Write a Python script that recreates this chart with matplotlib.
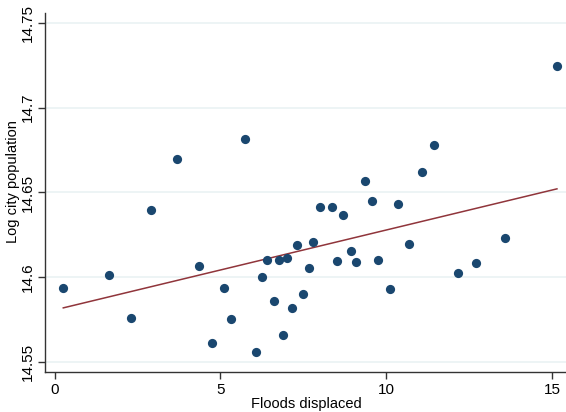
import numpy as np
import matplotlib
matplotlib.use("Agg")
import matplotlib.pyplot as plt

plt.rcParams['font.family'] = ['Liberation Sans', 'DejaVu Sans']

floods_displaced = [0.262, 1.639, 2.301, 2.895, 3.687, 4.349, 4.741, 5.102, 5.322, 5.744,
                    6.057, 6.238, 6.389, 6.608, 6.768, 6.889, 7.0, 7.160, 7.292, 7.482,
                    7.654, 7.798, 8.009, 8.376, 8.506, 8.708, 8.928, 9.078, 9.358, 9.560,
                    9.750, 10.102, 10.352, 10.684, 11.066, 11.437, 12.151, 12.693, 13.575, 15.142]
log_city_pop = [14.5939, 14.6014, 14.5758, 14.6397, 14.6696, 14.6068, 14.5611, 14.5939, 14.5754, 14.6814,
                14.5561, 14.6004, 14.6102, 14.5862, 14.6100, 14.5658, 14.6114, 14.5821, 14.6190, 14.5900,
                14.6055, 14.6208, 14.6414, 14.6416, 14.6094, 14.6366, 14.6157, 14.6088, 14.6568, 14.6450,
                14.6104, 14.5933, 14.6432, 14.6198, 14.6623, 14.6782, 14.6027, 14.6086, 14.6233, 14.7242]
x_ticks = [0, 5, 10, 15]
y_ticks = [14.55, 14.6, 14.65, 14.7, 14.75]
y_tick_labels = ["14.55", "14.6", "14.65", "14.7", "14.75"]

x = np.array(floods_displaced)
y = np.array(log_city_pop)

W, H = 566, 412
L, R, B, T = 45.3, 565.5, 372.3, 13
fig = plt.figure(figsize=(W/100, H/100), dpi=100)
ax = fig.add_axes([L/W, 1 - B/H, (R - L)/W, (B - T)/H])

for yt in y_ticks:
    ax.axhline(yt, color='#eaf2f3', lw=1.2, zorder=0)

ax.scatter(x, y, s=44, color='#1a476f', zorder=3, linewidths=0)
b, a = np.polyfit(x, y, 1)
xs = np.array([x.min(), x.max()])
ax.plot(xs, a + b * xs, color='#90353b', lw=1.1, zorder=2)

ax.set_xlim(-0.28, 15.4)
ax.set_ylim(14.5441, 14.7557)
ax.set_xticks(x_ticks)
ax.set_yticks(y_ticks)
ax.set_yticklabels(y_tick_labels, rotation=90, va='center')
for s in ['top', 'right']:
    ax.spines[s].set_visible(False)
for s in ['left', 'bottom']:
    ax.spines[s].set_color('#333333')
    ax.spines[s].set_linewidth(1.0)
ax.tick_params(axis='both', length=5, width=1.0, color='#333333', labelsize=11, colors='black')
ax.tick_params(axis='x', pad=2.5)
ax.tick_params(axis='y', pad=2.5)
ax.set_xlabel("Floods displaced", fontsize=10.5)
ax.set_ylabel("Log city population", fontsize=10.5)
ax.xaxis.set_label_coords((306 - L) / (R - L), (B - 397) / (B - T))
ax.yaxis.set_label_coords((20 - L) / (R - L), (B - 182) / (B - T))

fig.savefig("out.png", dpi=100)
